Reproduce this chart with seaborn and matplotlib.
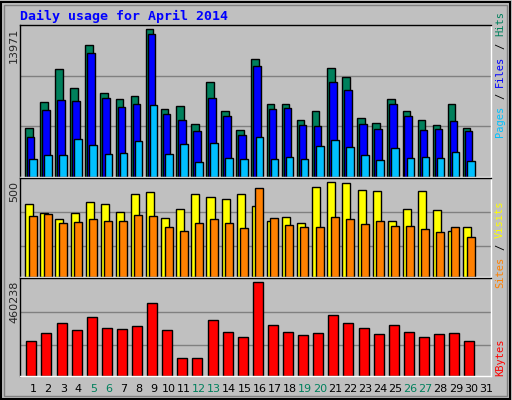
import matplotlib
matplotlib.use("Agg")
import matplotlib.pyplot as plt
import seaborn as sns
import numpy as np

days = list(range(1, 32))
hits = [4677,7142,10175,8374,12450,7995,7426,7710,13971,6478,6762,5056,8943,6288,4487,11123,6952,6952,5435,6288,10270,9417,5625,5151,7426,6288,5435,4961,6952,4677]
files = [3824,6383,7331,7236,11692,7521,6668,6952,13493,6004,5435,4392,7521,5814,4013,10460,6478,6573,4961,4866,8943,8279,5056,4582,6952,5814,4487,4582,5340,4392]
pages = [1738,2117,2117,3634,3065,2212,2307,3444,6857,2212,3160,1454,3255,1833,1738,3824,1738,1928,1738,2970,3539,2876,2117,1643,2781,1833,1928,1833,2402,1548]
visits_px = [76,103,121,103,70,76,100,46,43,118,91,46,58,61,46,82,127,115,133,28,13,16,37,40,127,91,40,94,157,145]
sites_px = [112,106,133,130,121,127,127,109,112,145,154,133,121,133,148,31,118,139,145,145,115,121,136,127,142,142,151,160,145,172]
visits = [round((290 - p) * 1.805) for p in visits_px]
sites = [round((290 - p) * 1.805) for p in sites_px]
kb_px = [484,463,433,454,415,448,451,442,376,454,535,535,424,460,475,313,439,460,469,463,409,433,448,466,439,460,475,466,463,484]
kbytes = [round((587 - p) * 1679.6) for p in kb_px]
weekends = [5, 6, 12, 13, 19, 20, 26, 27]

sns.set_style("white")
plt.rcParams['font.family'] = ['DejaVu Sans Mono', 'DejaVu Sans']

W, H = 512, 400
fig = plt.figure(figsize=(W/100, H/100), dpi=100)
fig.patch.set_facecolor('#C0C0C0')
fig.add_artist(plt.Rectangle((1/W, 1/H), 509/W, 397/H, transform=fig.transFigure, fill=False, ec='black', lw=1.5))
fig.add_artist(plt.Rectangle((4/W, 4/H), 503/W, 391/H, transform=fig.transFigure, fill=False, ec='#808080', lw=1))

def mkax(top, bot):
    ax = fig.add_axes([20/W, 1 - bot/H, 471/W, (bot - top)/H])
    ax.set_facecolor('#C0C0C0')
    ax.set_xlim(0.14, 31.33)
    for s in ax.spines.values():
        s.set_color('black'); s.set_linewidth(1)
    ax.spines['right'].set_color('white'); ax.spines['bottom'].set_color('white')
    ax.set_yticks([]); ax.set_xticks([])
    return ax

x = np.array(days[:30], dtype=float)
bk = dict(edgecolor='black', linewidth=1, align='edge')

ax1 = mkax(25, 177)
ymax1 = 14382
ax1.set_ylim(0, ymax1)
for f in (1/3, 2/3):
    ax1.axhline(f*ymax1, color='#808080', lw=1, zorder=0)
ax1.bar(x - 0.53, hits, width=0.5, color='#00805C', **bk)
ax1.bar(x - 0.40, files, width=0.5, color='#0000FF', **bk)
ax1.bar(x - 0.26, pages, width=0.5, color='#00C0FF', **bk)

ax2 = mkax(178, 277)
ymax2 = 521.7
ax2.set_ylim(0, ymax2)
for f in (0.315, 0.657):
    ax2.axhline(f*ymax2, color='#808080', lw=1, zorder=0)
ax2.bar(x - 0.51, visits, width=0.53, color='#FFFF00', **bk)
ax2.bar(x - 0.29, sites, width=0.53, color='#FF8000', **bk)

ax3 = mkax(278, 376)
ymax3 = 478700
ax3.set_ylim(0, ymax3)
for f in (0.312, 0.656):
    ax3.axhline(f*ymax3, color='#808080', lw=1, zorder=0)
ax3.bar(x - 0.44, kbytes, width=0.66, color='#FF0000', **bk)

for d in days:
    ax3.text(d, -0.13, str(d), transform=ax3.get_xaxis_transform(), ha='center', va='center',
             fontsize=8, family='DejaVu Sans', color='#00805C' if d in weekends else 'black')

fig.text(20/W, 1 - 16/H, 'Daily usage for April 2014', color='#0000FF', fontsize=9.5,
         fontweight='bold', va='center', ha='left')

def ylab(txt, ytop):
    fig.text(14/W, 1 - ytop/H, txt, rotation=90, ha='center', va='top', fontsize=8, family='DejaVu Sans')
ylab('13971', 28)
ylab('500', 181)
ylab('460238', 281)

def rlab(parts, ybot, step=6.3):
    y = ybot
    for t, c in parts:
        s = t.strip()
        lead = len(t) - len(t.lstrip())
        y0 = y - lead * step
        fig.text(500/W, 1 - y0/H, s, rotation=90, ha='center', va='bottom', fontsize=7.5, color=c)
        y -= len(t) * step
rlab([('Pages', '#00C0FF'), (' /', 'black'), (' Files', '#0000FF'), (' /', 'black'), (' Hits', '#00805C')], 137)
rlab([('Sites', '#FF8000'), (' /', 'black'), (' Visits', '#FFFF00')], 288)
rlab([('KBytes', '#FF0000')], 376)

fig.savefig('out.png', dpi=100, facecolor=fig.get_facecolor())
